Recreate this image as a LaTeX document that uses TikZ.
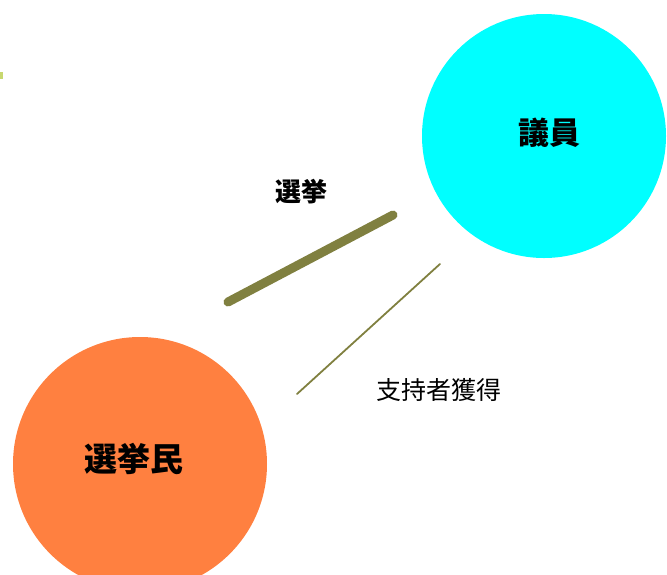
\documentclass[tikz,border=0pt]{standalone}
\usepackage{fontspec}
\newfontfamily\cjk{Noto Sans CJK JP}
\definecolor{cyanc}{HTML}{00FFFF}
\definecolor{orangec}{HTML}{FF8040}
\definecolor{olivec}{HTML}{808040}
\definecolor{dotc}{HTML}{C8D870}
\begin{document}
\begin{tikzpicture}[x=1pt,y=-1pt,
  disc/.style={circle,inner sep=0pt,minimum size=#1},
  lbl/.style={font=\cjk\bfseries\fontsize{#1}{#1}\selectfont,inner sep=0pt},
  thinlbl/.style={font=\cjk\fontsize{#1}{#1}\selectfont,inner sep=0pt},
  link/.style={olivec,line cap=round}]
\useasboundingbox (0,0) rectangle (667,574);
\begin{scope}
\clip (0,0) rectangle (667,574);
\node[disc=244pt,fill=cyanc] (giin) at (544,136) {};
\node[disc=254pt,fill=orangec] (sen) at (140,464) {};
\end{scope}
\fill[dotc] (0,72) rectangle (2.5,79);
\coordinate (a1) at (228,302);
\coordinate (a2) at (393,215);
\coordinate (b1) at (297,394);
\coordinate (b2) at (440,264);
\draw[link,line width=9pt] (a1) -- (a2);
\draw[link,line width=1.8pt] (b1) -- (b2);
\node[lbl=31] (t1) at (549,133) {議員};
\node[lbl=33] (t2) at (134,459) {選挙民};
\node[lbl=26] (t3) at (301,192) {選挙};
\node[thinlbl=25] (t4) at (439,390) {支持者獲得};
\end{tikzpicture}
\end{document}
